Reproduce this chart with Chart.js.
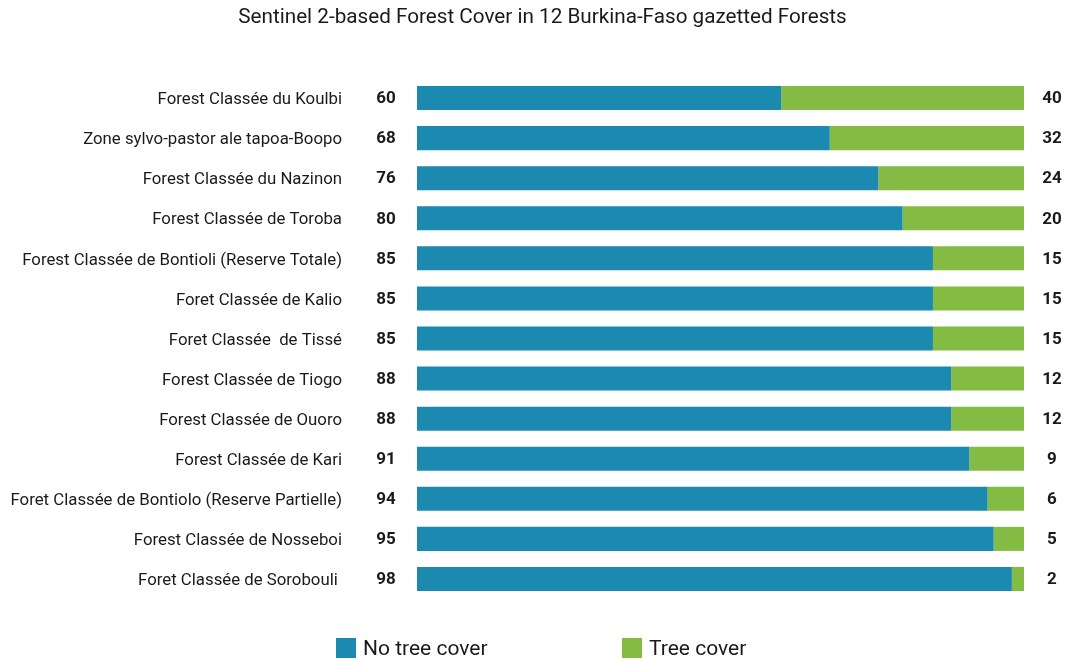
<!DOCTYPE html>
<html>
<head>
<meta charset="utf-8">
<script src="https://cdn.jsdelivr.net/npm/chart.js@4"></script>
<style>
  html, body { margin: 0; padding: 0; background: #fff; }
  #wrap { position: relative; width: 1067px; height: 660px; }
  .legend { position: absolute; top: 636px; font: 21px Roboto, sans-serif; color: #1a1a1a; display: flex; align-items: center; line-height: 24px; }
  .legend span.box { display: inline-block; width: 20px; height: 20px; margin-right: 7px; }
</style>
</head>
<body>
<div id="wrap">
  <canvas id="forestChart" width="1067" height="660"></canvas>
  <div class="legend" style="left:336px"><span class="box" style="background:#1b89b0"></span>No tree cover</div>
  <div class="legend" style="left:622px"><span class="box" style="background:#84bb42"></span>Tree cover</div>
</div>
<script>
/* Forest cover per gazetted forest */
const TITLE = 'Sentinel 2-based Forest Cover in 12 Burkina-Faso gazetted Forests';
const FORESTS = [
  'Forest Classée du Koulbi',
  'Zone sylvo-pastor ale tapoa-Boopo',
  'Forest Classée du Nazinon',
  'Forest Classée de Toroba',
  'Forest Classée de Bontioli (Reserve Totale)',
  'Foret Classée de Kalio',
  'Foret Classée  de Tissé',
  'Forest Classée de Tiogo',
  'Forest Classée de Ouoro',
  'Forest Classée de Kari',
  'Foret Classée de Bontiolo (Reserve Partielle)',
  'Forest Classée de Nosseboi',
  'Foret Classée de Sorobouli ',
];
const NO_TREE = [60, 68, 76, 80, 85, 85, 85, 88, 88, 91, 94, 95, 98];
const TREE    = [40, 32, 24, 20, 15, 15, 15, 12, 12, 9, 6, 5, 2];

const BLUE  = '#1b89b0';
const GREEN = '#84bb42';
const INK   = '#1a1a1a';

// title and the numbers beside the bars
const valueLabels = {
  id: 'valueLabels',
  afterDatasetsDraw(chart) {
    const { ctx, scales: { y } } = chart;
    ctx.save();
    ctx.fillStyle = INK;
    ctx.textAlign = 'center';
    ctx.textBaseline = 'middle';
    ctx.font = '20.7px Roboto, sans-serif';
    ctx.fillText(TITLE, 542.5, 18);
    ctx.font = 'bold 17px Roboto, sans-serif';
    FORESTS.forEach((f, i) => {
      const py = y.getPixelForValue(i);
      ctx.fillText(String(NO_TREE[i]), 386, py + 1);
      ctx.fillText(String(TREE[i]), 1052, py + 1);
    });
    ctx.restore();
  },
};

new Chart(document.getElementById('forestChart'), {
  type: 'bar',
  data: {
    labels: FORESTS,
    datasets: [
      { label: 'No tree cover', data: NO_TREE, backgroundColor: BLUE, borderWidth: 0 },
      { label: 'Tree cover', data: TREE, backgroundColor: GREEN, borderWidth: 0 },
    ],
  },
  options: {
    indexAxis: 'y',
    responsive: false,
    animation: false,
    barPercentage: 0.6,
    categoryPercentage: 1,
    layout: { padding: { left: 0, right: 43, top: 78, bottom: 61 } },
    plugins: {
      legend: { display: false },
      tooltip: { enabled: false },
      title: { display: false },
    },
    scales: {
      x: { stacked: true, min: 0, max: 100, display: false },
      y: {
        stacked: true,
        grid: { display: false, drawTicks: false },
        border: { display: false },
        ticks: {
          font: { family: 'Roboto', size: 16.8 },
          color: INK,
          padding: 75,
          labelOffset: 2,
          autoSkip: false,
        },
        afterFit(scale) {
          scale.width = 417;
          scale.paddingTop = 0;
          scale.paddingBottom = 0;
        },
      },
    },
  },
  plugins: [valueLabels],
});
</script>
</body>
</html>
